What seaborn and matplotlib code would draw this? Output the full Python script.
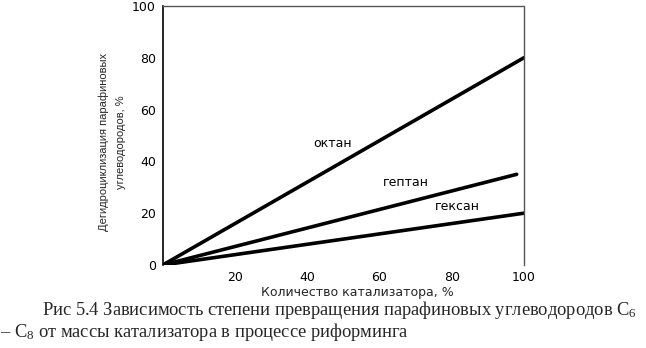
import matplotlib
matplotlib.use("Agg")
import matplotlib.pyplot as plt
import seaborn as sns
import pandas as pd

# Catalyst amount (%) and conversion (%) for each paraffin
octane_x = [0, 100]
octane_y = [0, 80]
heptane_x = [0, 98]
heptane_y = [0, 35]
hexane_x = [0, 100]
hexane_y = [0, 20]

series_names = ["октан", "гептан", "гексан"]
label_pos = [(47, 47), (67.4, 31.7), (81.5, 22.4)]

x_ticks = [20, 40, 60, 80, 100]
y_ticks = [0, 20, 40, 60, 80, 100]

xlabel = "Количество катализатора, %"
ylabel = "Дегидроциклизация парафиновых\nуглеводородов, %"
caption1 = "Рис 5.4 Зависимость степени превращения парафиновых углеводородов C$_6$"
caption2 = "– C$_8$ от массы катализатора в процессе риформинга"

df = pd.concat([
    pd.DataFrame({"x": octane_x, "y": octane_y, "s": series_names[0]}),
    pd.DataFrame({"x": heptane_x, "y": heptane_y, "s": series_names[1]}),
    pd.DataFrame({"x": hexane_x, "y": hexane_y, "s": series_names[2]}),
], ignore_index=True)

sns.set_theme(style="white")
plt.rcParams["font.family"] = ["DejaVu Sans"]
plt.rcParams["mathtext.fontset"] = "custom"
plt.rcParams["mathtext.rm"] = "Liberation Serif"
plt.rcParams["mathtext.it"] = "Liberation Serif:italic"

fig = plt.figure(figsize=(6.46, 3.48), dpi=100)
ax = fig.add_axes([0.252, 0.2385, 0.559, 0.7445])

sns.lineplot(data=df, x="x", y="y", hue="s", palette=["black"] * 3,
             linewidth=2.6, legend=False, ax=ax, estimator=None, sort=False)

ax.set_xlim(0, 100)
ax.set_ylim(0, 100)
ax.set_xticks(x_ticks)
ax.set_yticks(y_ticks)
ax.tick_params(axis="both", labelsize=9, colors="black", width=1.0)
ax.tick_params(axis="y", direction="in", length=6, pad=5)
ax.tick_params(axis="x", direction="out", length=3, pad=1.5)
ax.set_xlabel(xlabel, fontsize=9)
ax.xaxis.set_label_coords(0.54, -0.082)
ax.set_ylabel("")

for name, (lx, ly) in zip(series_names, label_pos):
    ax.text(lx, ly, name, fontsize=9, ha="center", va="center", color="black")

ax.spines["left"].set_color("black")
ax.spines["left"].set_linewidth(1.2)
ax.spines["bottom"].set_visible(False)
for side in ("top", "right"):
    ax.spines[side].set_color("#555555")
    ax.spines[side].set_linestyle((0, (1, 1)))
    ax.spines[side].set_linewidth(1.0)

fig.text(112 / 646, 1 - 142 / 348, ylabel, rotation=90, ha="center",
         va="center", fontsize=8, linespacing=1.85,
         family="Liberation Sans")

fig.text(42 / 646, 1 - 315 / 348, caption1, fontsize=13.3,
         family="Liberation Serif", ha="left", va="baseline")
fig.text(0.0, 1 - 337 / 348, caption2, fontsize=13.3,
         family="Liberation Serif", ha="left", va="baseline")

fig.savefig("out.png", dpi=100)
